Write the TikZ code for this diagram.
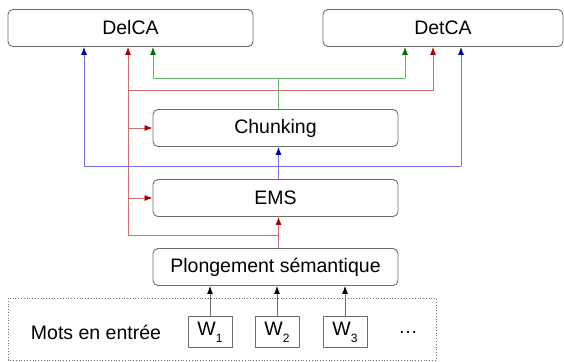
\documentclass[tikz,border=0pt]{standalone}
\usepackage{fontspec}
\setmainfont{Liberation Sans}
\usetikzlibrary{arrows.meta}

\definecolor{boxgray}{RGB}{110,110,110}
\definecolor{redline}{RGB}{212,110,110}
\definecolor{redtip}{RGB}{170,0,0}
\definecolor{greenline}{RGB}{105,178,105}
\definecolor{greentip}{RGB}{0,110,0}
\definecolor{blueline}{RGB}{115,115,220}
\definecolor{bluetip}{RGB}{0,0,170}

\begin{document}
\begin{tikzpicture}[x=1bp,y=-1bp,
  font=\fontsize{19.5bp}{23bp}\selectfont,
  layer/.style={draw=boxgray,line width=0.9bp,rounded corners=5bp,minimum width=245bp,minimum height=37bp,inner sep=0pt},
  wordbox/.style={draw=boxgray,line width=0.9bp,minimum width=44bp,minimum height=31bp,inner sep=0pt},
  redarr/.style={draw=redline,line width=0.8bp,-{Latex[length=8bp,width=6bp,color=redtip]}},
  greenarr/.style={draw=greenline,line width=0.8bp,-{Latex[length=8bp,width=6bp,color=greentip]}},
  bluearr/.style={draw=blueline,line width=0.8bp,-{Latex[length=8bp,width=6bp,color=bluetip]}},
  grayarr/.style={draw=boxgray,line width=0.9bp,-{Latex[length=8bp,width=6bp,color=black]}}]
\useasboundingbox (0,0) rectangle (564,361);

% boxes
\node[layer] (delca) at (130.5,28) {DelCA};
\node[layer,minimum width=240bp] (detca) at (443,28) {DetCA};
\node[layer] (chunk) at (275.5,128) {Chunking};
\node[layer] (ems) at (275.5,198) {EMS};
\node[layer] (plong) at (275.5,267) {Plongement sémantique};

% input words
\draw[boxgray,dotted,line width=0.8bp] (8,298) rectangle (436,360);
\node (mots) at (96,332) {Mots en entrée};
\node[wordbox] (w1) at (210,332) {W\raisebox{-7bp}{\fontsize{12bp}{12bp}\selectfont 1}};
\node[wordbox] (w2) at (277,332) {W\raisebox{-7bp}{\fontsize{12bp}{12bp}\selectfont 2}};
\node[wordbox] (w3) at (345,332) {W\raisebox{-7bp}{\fontsize{12bp}{12bp}\selectfont 3}};
\node (etc) at (408,332) {…};

\draw[grayarr] (w1.north) -- (w1.north |- plong.south);
\draw[grayarr] (w2.north) -- (w2.north |- plong.south);
\draw[grayarr] (w3.north) -- (w3.north |- plong.south);

% shared vertical axis, slightly right of the box centres
\coordinate (axis) at (278.5,0);

% red
\coordinate (rk) at (128,235);
\coordinate (rt) at (433,90);
\draw[redarr] (axis |- plong.north) -- (axis |- ems.south);
\draw[redarr] (axis |- rk) -- (rk) -- (rk |- delca.south);
\draw[redarr] (rk |- ems.west) -- (ems.west);
\draw[redarr] (rk |- chunk.west) -- (chunk.west);
\draw[redarr] (rk |- rt) -- (rt) -- (rt |- detca.south);

% blue
\coordinate (bl) at (84,166);
\coordinate (br) at (461,166);
\draw[bluearr] (axis |- ems.north) -- (axis |- chunk.south);
\draw[blueline,line width=0.8bp] (bl) -- (br);
\draw[bluearr] (bl) -- (bl |- delca.south);
\draw[bluearr] (br) -- (br |- detca.south);

% green
\coordinate (gl) at (153,78);
\coordinate (gr) at (405,78);
\draw[greenline,line width=0.8bp] (axis |- chunk.north) -- (axis |- gl);
\draw[greenline,line width=0.8bp] (gl) -- (gr);
\draw[greenarr] (gl) -- (gl |- delca.south);
\draw[greenarr] (gr) -- (gr |- detca.south);
\end{tikzpicture}
\end{document}
